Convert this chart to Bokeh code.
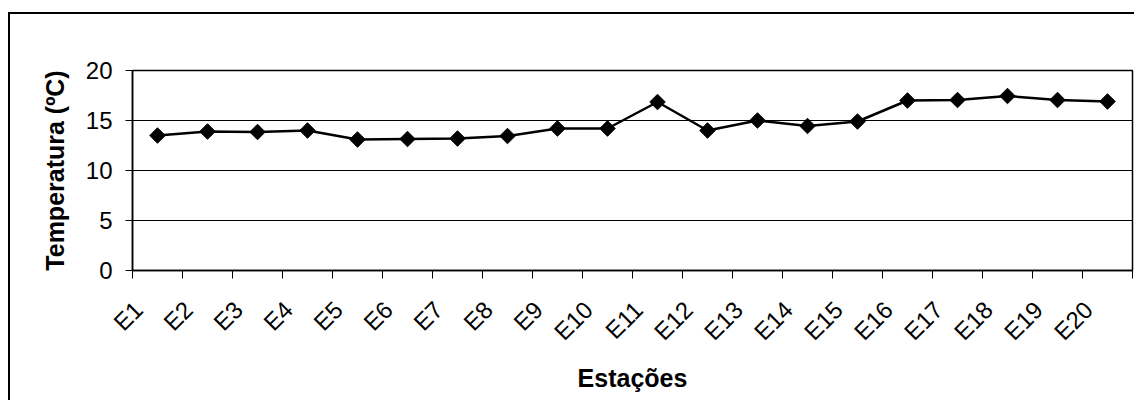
import math
from bokeh.plotting import figure
from bokeh.models import FixedTicker, Range1d
from bokeh.embed import file_html
from bokeh.resources import INLINE

stations = ["E1", "E2", "E3", "E4", "E5", "E6", "E7", "E8", "E9", "E10",
            "E11", "E12", "E13", "E14", "E15", "E16", "E17", "E18", "E19", "E20"]
temperature = [13.5, 13.9, 13.85, 14.0, 13.1, 13.15, 13.2, 13.45, 14.2, 14.2,
               16.85, 14.0, 15.0, 14.45, 14.9, 17.0, 17.05, 17.45, 17.05, 16.9]
y_ticks = [0, 5, 10, 15, 20]

# category centres on a numeric scale, so tick marks can sit between categories
centres = [i + 0.5 for i in range(len(stations))]
boundaries = list(range(len(stations) + 1))
label_pos = [c - 0.38 for c in centres]

FONT = "Liberation Sans"

p = figure(width=1126, height=388, output_backend="svg", toolbar_location=None,
           x_range=Range1d(0, len(stations)), y_range=Range1d(0, 20),
           min_border_left=122, min_border_right=4, min_border_top=56,
           min_border_bottom=132)
p.styles = {"border-left": "2px solid black", "border-top": "2px solid black",
            "margin-top": "12px", "margin-left": "8px"}

p.outline_line_color = "black"
p.outline_line_width = 1.5
p.background_fill_color = "white"
p.border_fill_color = "white"

p.xgrid.visible = False
p.ygrid.grid_line_color = "black"
p.ygrid.grid_line_width = 1
p.ygrid.ticker = FixedTicker(ticks=y_ticks)

# y axis
p.yaxis.ticker = FixedTicker(ticks=y_ticks)
p.yaxis.axis_label = "Temperatura (ºC)"
p.yaxis.axis_label_text_font = FONT
p.yaxis.axis_label_text_font_style = "bold"
p.yaxis.axis_label_text_font_size = "25px"
p.yaxis.axis_label_text_color = "black"
p.yaxis.axis_label_standoff = 14
p.yaxis.major_label_text_font = FONT
p.yaxis.major_label_text_font_size = "24px"
p.yaxis.major_label_text_color = "black"
p.yaxis.major_label_standoff = 13
p.yaxis.major_tick_in = 0
p.yaxis.major_tick_out = 7
p.yaxis.major_tick_line_color = "black"
p.yaxis.minor_tick_in = 0
p.yaxis.minor_tick_out = 0
p.yaxis.axis_line_color = "black"
p.yaxis.axis_line_width = 1.5

# x axis
p.xaxis.ticker = FixedTicker(ticks=label_pos, minor_ticks=boundaries)
p.xaxis.major_label_overrides = {c: s for c, s in zip(label_pos, stations)}
p.xaxis.major_label_orientation = math.pi / 4
p.xaxis.major_label_text_font = FONT
p.xaxis.major_label_text_font_size = "24px"
p.xaxis.major_label_text_color = "black"
p.xaxis.major_label_standoff = 27
p.xaxis.major_tick_in = 0
p.xaxis.major_tick_out = 0
p.xaxis.minor_tick_in = 0
p.xaxis.minor_tick_out = 8
p.xaxis.minor_tick_line_color = "black"
p.xaxis.axis_line_color = "black"
p.xaxis.axis_line_width = 1.5
p.xaxis.axis_label = "Estações"
p.xaxis.axis_label_text_font = FONT
p.xaxis.axis_label_text_font_style = "bold"
p.xaxis.axis_label_text_font_size = "25px"
p.xaxis.axis_label_text_color = "black"
p.xaxis.axis_label_standoff = 6

p.line(centres, temperature, line_color="black", line_width=2.5)
p.scatter(centres, temperature, marker="square", angle=math.pi / 4, size=11,
          fill_color="black", line_color="black")

open("out.html", "w").write(file_html(p, INLINE))
